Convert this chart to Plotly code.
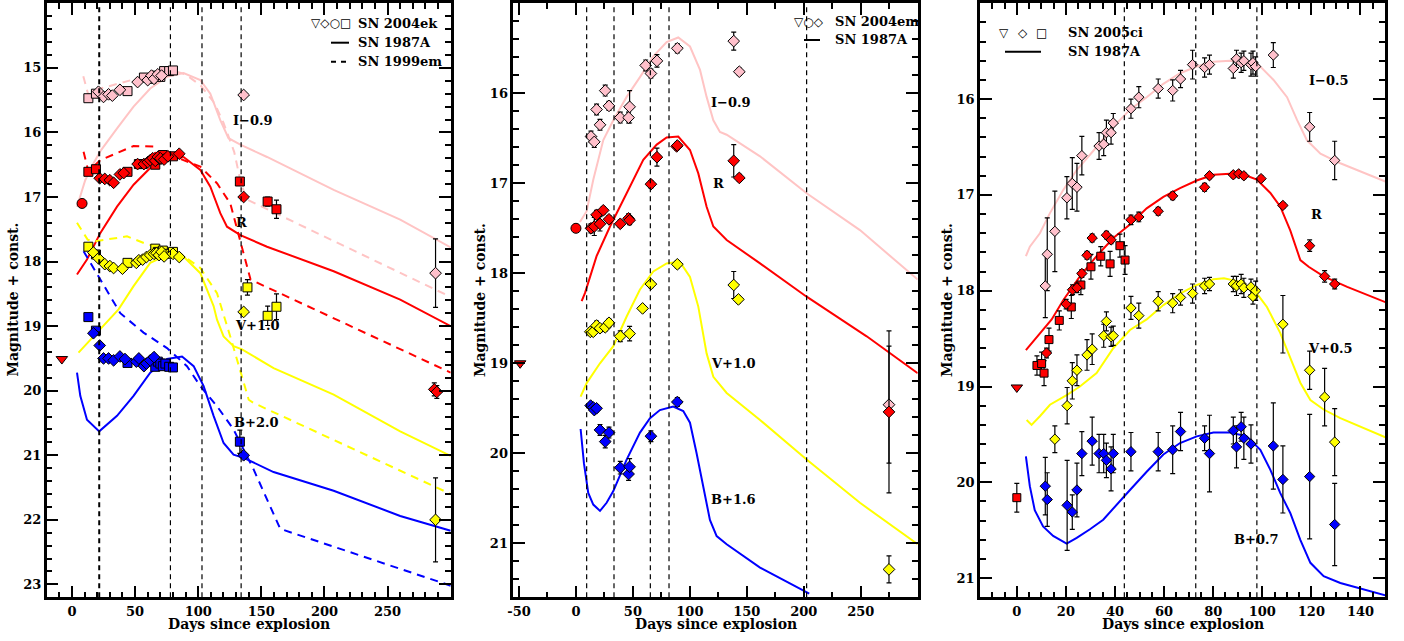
import plotly.graph_objects as go

# ---------------- data: SN 2004ek panel ----------------
spec_epochs_ek = [21.6, 78, 103, 134]

ek_I_sq_d = [13, 19, 44, 57, 63, 67, 70, 73, 77, 80]
ek_I_sq_m = [15.47, 15.40, 15.36, 15.15, 15.17, 15.12, 15.14, 15.05, 15.05, 15.04]
ek_I_dia_d = [21, 25, 29, 32, 38, 52, 60, 63, 65, 68, 71, 136]
ek_I_dia_m = [15.37, 15.45, 15.41, 15.43, 15.34, 15.22, 15.19, 15.12, 15.17, 15.10, 15.12, 15.42]
ek_I_late_d = [288]
ek_I_late_m = [18.18]
ek_I_late_e = [0.53]

ek_R_sq_d = [13, 19, 44, 53, 56, 66, 68, 72, 80, 133]
ek_R_sq_m = [16.61, 16.57, 16.61, 16.49, 16.49, 16.50, 16.42, 16.35, 16.37, 16.76]
ek_R_sqe_d = [155, 162]
ek_R_sqe_m = [17.07, 17.19]
ek_R_sqe_e = [0.07, 0.14]
ek_R_dia_d = [22, 26, 30, 33, 38, 41, 52, 57, 60, 62, 64, 66, 68, 70, 73, 76, 85, 136]
ek_R_dia_m = [16.71, 16.72, 16.74, 16.78, 16.65, 16.63, 16.49, 16.49, 16.46, 16.43, 16.40,
              16.44, 16.38, 16.40, 16.42, 16.37, 16.33, 17.0]
ek_R_late_d = [287, 289]
ek_R_late_m = [19.98, 20.02]
ek_R_late_e = [0.1, 0.1]
ek_R_circ_d = [8]
ek_R_circ_m = [17.10]
ek_R_tri_d = [-8]
ek_R_tri_m = [19.51]

ek_V_sq_d = [13, 19, 44, 66, 68, 72, 76, 80]
ek_V_sq_m = [17.77, 17.89, 18.02, 17.80, 17.85, 17.83, 17.88, 17.85]
ek_V_sqe_d = [139, 155, 162]
ek_V_sqe_m = [18.40, 18.84, 18.70]
ek_V_sqe_e = [0.12, 0.15, 0.2]
ek_V_dia_d = [17, 21, 26, 30, 33, 40, 51, 53, 56, 59, 62, 65, 67, 69, 71, 73, 80, 85, 136]
ek_V_dia_m = [17.86, 17.95, 18.04, 18.07, 18.10, 18.11, 18.02, 17.98, 17.97, 17.93, 17.90,
              17.88, 17.87, 17.90, 17.85, 17.92, 17.88, 17.93, 18.78]
ek_V_late_d = [288]
ek_V_late_m = [22.0]
ek_V_late_e = [0.65]

ek_B_sq_d = [13, 19, 44, 66, 68, 70, 72, 74, 77, 80]
ek_B_sq_m = [18.86, 19.07, 19.57, 19.63, 19.55, 19.58, 19.62, 19.58, 19.63, 19.64]
ek_B_sqe_d = [133]
ek_B_sqe_m = [20.79]
ek_B_sqe_e = [0.18]
ek_B_dia_d = [17, 22, 25, 29, 33, 38, 42, 51, 53, 57, 59, 62, 65, 136]
ek_B_dia_m = [19.11, 19.30, 19.50, 19.50, 19.53, 19.47, 19.51, 19.55, 19.50, 19.62, 19.58,
              19.53, 19.48, 21.0]

# SN 1987A template (panel 1)
p1_87_I_d = [4, 10.5, 17, 22.5, 35.6, 48.8, 62, 75.3, 88.4, 101.7, 109.6, 117.5, 124, 133.4, 154.5, 207.3, 260, 300]
p1_87_I_m = [17.15, 16.74, 16.48, 16.29, 15.94, 15.60, 15.32, 15.14, 15.08, 15.19, 15.40, 15.81, 16.09, 16.19, 16.38, 16.89, 17.35, 17.78]
p1_87_R_d = [4, 11.9, 22.4, 35.7, 48.8, 62, 75.3, 88.4, 101.7, 109.6, 117.5, 122.8, 133.4, 154.5, 207.3, 260, 300]
p1_87_R_m = [18.2, 17.97, 17.56, 17.15, 16.81, 16.55, 16.42, 16.38, 16.58, 16.84, 17.25, 17.46, 17.59, 17.77, 18.15, 18.59, 19.0]
p1_87_V_d = [5.2, 36.9, 48.8, 62, 75.3, 87.1, 101.7, 112.2, 114.9, 120.1, 128, 134.7, 159.7, 207.3, 260, 300]
p1_87_V_m = [19.41, 18.74, 18.38, 18.02, 17.9, 17.9, 18.18, 18.69, 18.9, 19.16, 19.31, 19.36, 19.65, 20.06, 20.63, 21.01]
p1_87_B_d = [4, 6.6, 11.9, 21.6, 35.7, 48.8, 62, 75.3, 87.2, 96.4, 104.3, 112.2, 120.1, 128, 136, 159.7, 207.3, 260, 300]
p1_87_B_m = [19.72, 20.08, 20.45, 20.63, 20.39, 20.08, 19.72, 19.51, 19.47, 19.62, 19.93, 20.39, 20.81, 20.99, 21.04, 21.26, 21.55, 21.94, 22.17]

# SN 1999em template (panel 1, dashed)
p1_99_I_d = [9, 13, 22.5, 35, 48.8, 65, 78, 90, 101.8, 113, 120, 128.5, 134, 138.7, 297]
p1_99_I_m = [15.13, 15.42, 15.32, 15.25, 15.18, 15.1, 15.03, 15.1, 15.27, 15.55, 15.85, 16.3, 16.8, 17.04, 18.52]
p1_99_R_d = [9.2, 13, 22.5, 48.8, 64.7, 66, 80.5, 101.7, 115, 125.4, 141.5, 300]
p1_99_R_m = [16.30, 16.60, 16.43, 16.21, 16.22, 16.33, 16.37, 16.53, 16.79, 17.10, 18.28, 19.72]
p1_99_V_d = [4, 12.4, 17, 43.6, 57.9, 67.3, 80.5, 101.7, 114.9, 125.4, 140, 143.9, 300]
p1_99_V_m = [17.40, 17.66, 17.69, 17.61, 17.72, 17.77, 17.80, 18.10, 18.49, 19.16, 20.14, 20.19, 21.6]
p1_99_B_d = [9.2, 22.4, 38.3, 56.7, 75.3, 91.1, 101.7, 114.9, 128, 143.9, 165, 300]
p1_99_B_m = [17.84, 18.28, 18.80, 19.10, 19.34, 19.62, 19.93, 20.24, 20.60, 21.22, 22.14, 23.02]

# ---------------- data: SN 2004em panel ----------------
spec_epochs_em = [9.4, 33.4, 65.3, 81.7, 202.5]

em_I_d = [13.2, 16.1, 18.1, 21.1, 25.7, 29, 38.9, 46.2, 47.1, 61.2, 65.8, 71.1, 89, 138.5, 143.4, 274.8]
em_I_m = [16.48, 16.54, 16.18, 16.35, 15.97, 16.14, 16.27, 16.27, 16.15, 15.69, 15.78, 15.64, 15.50, 15.42, 15.76, 19.46]
em_I_e = [0.06, 0.06, 0.06, 0.06, 0.06, 0.05, 0.06, 0.06, 0.18, 0.06, 0.05, 0.07, 0.05, 0.1, 0.04, 0.65]
em_R_d = [13.2, 16.1, 18.1, 21.1, 24, 29, 38.9, 46.2, 47.1, 65.8, 71.1, 88.4, 89, 138.5, 143.4, 274.8]
em_R_m = [17.50, 17.48, 17.35, 17.45, 17.30, 17.40, 17.45, 17.39, 17.41, 17.01, 16.71, 16.59, 16.58, 16.75, 16.94, 19.54]
em_R_e = [0.05, 0.1, 0.05, 0.08, 0.04, 0.04, 0.04, 0.05, 0.05, 0.04, 0.1, 0.04, 0.04, 0.18, 0.04, 0.9]
em_R_circ_d = [0]
em_R_circ_m = [17.50]
em_R_tri_d = [-49]
em_R_tri_m = [19.0]
em_V_d = [12.6, 15.2, 18.1, 21.1, 25.7, 29, 38.9, 47.1, 58.5, 65.8, 89, 138.5, 142.6, 274.8]
em_V_m = [18.65, 18.65, 18.58, 18.61, 18.60, 18.55, 18.70, 18.67, 18.39, 18.12, 17.90, 18.13, 18.29, 21.29]
em_V_e = [0.04, 0.04, 0.05, 0.04, 0.04, 0.04, 0.06, 0.08, 0.03, 0.04, 0.04, 0.15, 0.04, 0.15]
em_B_d = [12.9, 15.2, 16.1, 18.1, 21.1, 25.7, 29, 38.9, 46.2, 47.1, 65.8, 89]
em_B_m = [19.47, 19.49, 19.52, 19.50, 19.74, 19.87, 19.77, 20.16, 20.23, 20.15, 19.81, 19.43]
em_B_e = [0.03, 0.03, 0.03, 0.04, 0.06, 0.07, 0.06, 0.07, 0.07, 0.09, 0.06, 0.05]

p2_87_I_d = [3.5, 9.4, 15.2, 24, 32.8, 44.5, 56.2, 67.9, 79.6, 89.8, 100.1, 108.9, 114.7, 120.6, 126.4, 132.3, 161.6, 202.5, 249.3, 300]
p2_87_I_m = [17.43, 17.31, 16.96, 16.52, 16.30, 16.04, 15.82, 15.59, 15.43, 15.38, 15.48, 15.74, 16.04, 16.30, 16.43, 16.46, 16.70, 17.11, 17.52, 18.07]
p2_87_R_d = [5, 7.9, 18.1, 29.9, 44.5, 59.1, 70.9, 79.6, 89.8, 100.1, 107.4, 114.7, 120.6, 132.3, 161.6, 202.5, 255.2, 300]
p2_87_R_m = [18.31, 18.22, 17.81, 17.48, 17.11, 16.74, 16.57, 16.49, 16.48, 16.63, 16.89, 17.26, 17.48, 17.63, 17.89, 18.26, 18.70, 19.11]
p2_87_V_d = [4.1, 9.4, 21.1, 32.8, 44.5, 56.2, 67.9, 79.6, 91.1, 100.1, 107.4, 114.7, 120.6, 132.3, 161.6, 202.5, 249.3, 300]
p2_87_V_m = [19.37, 19.22, 19.0, 18.81, 18.48, 18.18, 17.98, 17.89, 17.87, 18.04, 18.37, 18.89, 19.15, 19.33, 19.63, 20.07, 20.55, 21.01]
p2_87_B_d = [4.1, 7, 10.8, 15.2, 21.1, 26.9, 32.8, 44.5, 56.2, 65, 73.7, 85.4, 94.2, 100.1, 105.9, 111.8, 117.6, 123.5, 132.3, 161.6, 204.8]
p2_87_B_m = [19.73, 20.11, 20.44, 20.57, 20.64, 20.55, 20.42, 20.07, 19.77, 19.61, 19.52, 19.48, 19.53, 19.66, 20.0, 20.37, 20.74, 20.92, 21.01, 21.27, 21.56]

# ---------------- data: SN 2005ci panel ----------------
spec_epochs_ci = [43.8, 72.9, 97.8]

ci_I_d = [11.6, 12.4, 15.5, 20.4, 22.6, 24.5, 26.5, 33.5, 35.4, 36.5, 38.4, 39.3, 46.5, 49.7, 57.6, 63.5, 66.7, 71.6, 76.5, 78.5, 88.2, 89.5, 91.4, 92.5, 95.4, 96.2, 97.3, 104.5, 119.3, 129.5]
ci_I_m = [17.95, 17.62, 17.38, 17.03, 16.88, 16.92, 16.59, 16.49, 16.47, 16.35, 16.35, 16.25, 16.10, 15.98, 15.89, 15.91, 15.79, 15.64, 15.67, 15.64, 15.68, 15.58, 15.62, 15.60, 15.64, 15.62, 15.66, 15.54, 16.29, 16.64]
ci_I_e = [0.33, 0.38, 0.42, 0.22, 0.27, 0.25, 0.2, 0.14, 0.12, 0.13, 0.12, 0.1, 0.1, 0.11, 0.1, 0.11, 0.09, 0.15, 0.1, 0.1, 0.1, 0.09, 0.1, 0.1, 0.12, 0.12, 0.1, 0.13, 0.15, 0.2]
ci_R_d = [12.1, 20.1, 22.7, 24.5, 26.5, 28.6, 30.7, 36.5, 38.4, 46.5, 49.7, 57.6, 63.5, 76.5, 78.5, 88.2, 90.4, 92.5, 99.5, 108.4, 119.3, 125.4, 129.5]
ci_R_m = [18.65, 18.14, 17.99, 17.97, 17.82, 17.63, 17.45, 17.42, 17.47, 17.26, 17.23, 17.17, 17.01, 16.92, 16.80, 16.79, 16.78, 16.80, 16.83, 17.11, 17.53, 17.85, 17.93]
ci_R_e = [0.05, 0.05, 0.05, 0.05, 0.04, 0.04, 0.04, 0.04, 0.04, 0.05, 0.05, 0.04, 0.04, 0.04, 0.03, 0.03, 0.03, 0.03, 0.03, 0.03, 0.06, 0.06, 0.05]
ci_R_sq_d = [0, 8.2, 10.1, 11.1, 13.1, 17.3, 22.2, 26.1, 30.2, 34.2, 38, 42, 44.1]
ci_R_sq_m = [20.16, 18.78, 18.76, 18.86, 18.51, 18.31, 18.17, 17.94, 17.75, 17.64, 17.72, 17.53, 17.68]
ci_R_sq_e = [0.15, 0.1, 0.12, 0.13, 0.12, 0.1, 0.12, 0.1, 0.13, 0.1, 0.13, 0.12, 0.15]
ci_R_tri_d = [0]
ci_R_tri_m = [19.01]
ci_V_d = [15.5, 20.5, 22.6, 24.5, 28.6, 30.7, 35.4, 36.5, 38.4, 39.3, 46.5, 49.7, 57.6, 63.5, 66.7, 71.6, 76.5, 78.5, 88.2, 89.5, 91.4, 92.5, 95.4, 96.2, 97.3, 108.4, 119.3, 125.4, 129.5]
ci_V_m = [19.55, 19.20, 18.94, 18.83, 18.67, 18.61, 18.47, 18.32, 18.48, 18.47, 18.18, 18.26, 18.11, 18.13, 18.07, 18.03, 17.95, 17.93, 17.93, 17.95, 17.93, 17.97, 17.96, 18.06, 18.0, 18.35, 18.83, 19.11, 19.58]
ci_V_e = [0.14, 0.19, 0.19, 0.16, 0.16, 0.16, 0.12, 0.1, 0.1, 0.1, 0.12, 0.13, 0.1, 0.1, 0.08, 0.1, 0.08, 0.07, 0.08, 0.1, 0.1, 0.1, 0.08, 0.08, 0.1, 0.3, 0.2, 0.3, 0.35]
ci_B_d = [11.6, 12.4, 20.5, 22.6, 24.5, 26.5, 30.7, 33.5, 35.4, 36.5, 38.4, 39.3, 46.5, 57.6, 63.5, 66.7, 76.5, 78.5, 88.2, 89.5, 91.4, 92.5, 95.4, 104.5, 108.4, 119.3, 129.5]
ci_B_m = [20.04, 20.18, 20.24, 20.31, 20.08, 19.70, 19.57, 19.70, 19.70, 19.77, 19.86, 19.70, 19.68, 19.68, 19.66, 19.47, 19.54, 19.70, 19.46, 19.63, 19.42, 19.54, 19.60, 19.62, 19.97, 19.94, 20.44]
ci_B_e = [0.3, 0.28, 0.47, 0.18, 0.28, 0.23, 0.25, 0.2, 0.2, 0.18, 0.23, 0.2, 0.2, 0.2, 0.25, 0.2, 0.13, 0.4, 0.14, 0.22, 0.15, 0.22, 0.2, 0.45, 0.35, 0.65, 0.43]

p3_87_I_d = [3.7, 5.3, 9.4, 13.5, 18.9, 24.4, 32.5, 39.3, 46.1, 52.9, 59.7, 66.5, 73.3, 80.1, 86.9, 93.7, 99.2, 104.6, 110.1, 114.2, 118.2, 123.7, 131.8, 150.2]
p3_87_I_m = [17.64, 17.54, 17.40, 17.19, 16.95, 16.74, 16.50, 16.29, 16.11, 15.98, 15.84, 15.73, 15.66, 15.61, 15.60, 15.61, 15.66, 15.80, 15.98, 16.22, 16.43, 16.57, 16.67, 16.86]
p3_87_R_d = [3.7, 6.7, 10.7, 14.2, 18.9, 25.7, 32.5, 39.3, 46.1, 52.9, 59.7, 66.5, 73.3, 80.1, 86.9, 93.7, 97.8, 103.3, 107.3, 111.4, 115.5, 118.9, 125, 134.6, 150.2]
p3_87_R_m = [18.62, 18.53, 18.41, 18.30, 18.10, 17.85, 17.64, 17.45, 17.31, 17.14, 17.02, 16.93, 16.85, 16.79, 16.78, 16.80, 16.84, 16.98, 17.12, 17.37, 17.68, 17.75, 17.85, 17.96, 18.12]
p3_87_V_d = [4, 6, 9.4, 13.5, 20.3, 25.7, 32.5, 39.3, 46.1, 52.9, 59.7, 66.5, 73.3, 80.1, 84.4, 91.4, 97.8, 101.9, 107.3, 111.4, 115.5, 119.6, 125, 131.8, 150.2]
p3_87_V_m = [19.35, 19.40, 19.31, 19.19, 19.09, 19.0, 18.86, 18.60, 18.41, 18.30, 18.15, 18.03, 17.94, 17.88, 17.87, 17.91, 18.03, 18.17, 18.44, 18.69, 18.96, 19.14, 19.24, 19.33, 19.53]
p3_87_B_d = [3.7, 5.3, 7.3, 10.7, 14.8, 20.3, 24.4, 29.8, 35.2, 40.7, 46.1, 52.9, 59.7, 66.5, 73.3, 80.1, 86.9, 93.7, 99.2, 103.3, 107.3, 111.4, 115.5, 119.6, 125, 131.8, 150.2]
p3_87_B_m = [19.73, 20.04, 20.29, 20.46, 20.56, 20.64, 20.58, 20.49, 20.39, 20.23, 20.08, 19.89, 19.71, 19.59, 19.52, 19.48, 19.48, 19.52, 19.66, 19.87, 20.11, 20.32, 20.60, 20.84, 20.98, 21.05, 21.18]

# ---------------- styling ----------------
W, H = 1404, 641
FONT = 'DejaVu Serif'
PINK = '#ffc0cb'
PINKL = '#ffc4c4'
RED = '#ff0000'
YEL = '#ffff00'
BLU = '#0000ff'
DASH = '8px,6px'

fig = go.Figure()


def add_line(ax, d, m, color, dash='solid', width=2):
    fig.add_trace(go.Scatter(x=d, y=m, mode='lines', xaxis='x' + ax, yaxis='y' + ax,
                             line=dict(color=color, width=width, dash=dash),
                             showlegend=False, hoverinfo='skip'))


def add_pts(ax, d, m, color, symbol, size, err=None):
    kw = {}
    if err is not None:
        kw['error_y'] = dict(type='data', array=err, visible=True, color='black',
                             thickness=1.2, width=2.5)
    fig.add_trace(go.Scatter(x=d, y=m, mode='markers', xaxis='x' + ax, yaxis='y' + ax,
                             marker=dict(color=color, symbol=symbol, size=size,
                                         line=dict(color='black', width=1)),
                             showlegend=False, hoverinfo='skip', **kw))


# panel 1 curves
add_line('', p1_87_I_d, p1_87_I_m, PINKL)
add_line('', p1_99_I_d, p1_99_I_m, PINKL, DASH)
add_line('', p1_87_R_d, p1_87_R_m, RED)
add_line('', p1_99_R_d, p1_99_R_m, RED, DASH)
add_line('', p1_87_V_d, p1_87_V_m, YEL)
add_line('', p1_99_V_d, p1_99_V_m, YEL, DASH)
add_line('', p1_87_B_d, p1_87_B_m, BLU)
add_line('', p1_99_B_d, p1_99_B_m, BLU, DASH)
# panel 1 points
add_pts('', ek_I_sq_d, ek_I_sq_m, PINK, 'square', 9)
add_pts('', ek_I_dia_d, ek_I_dia_m, PINK, 'diamond', 9)
add_pts('', ek_I_late_d, ek_I_late_m, PINK, 'diamond', 9, ek_I_late_e)
add_pts('', ek_R_sq_d, ek_R_sq_m, RED, 'square', 9)
add_pts('', ek_R_sqe_d, ek_R_sqe_m, RED, 'square', 9, ek_R_sqe_e)
add_pts('', ek_R_dia_d, ek_R_dia_m, RED, 'diamond', 9)
add_pts('', ek_R_late_d, ek_R_late_m, RED, 'diamond', 9, ek_R_late_e)
add_pts('', ek_R_circ_d, ek_R_circ_m, RED, 'circle', 10)
add_pts('', ek_R_tri_d, ek_R_tri_m, RED, 'triangle-down', 10)
add_pts('', ek_V_sq_d, ek_V_sq_m, YEL, 'square', 9)
add_pts('', ek_V_sqe_d, ek_V_sqe_m, YEL, 'square', 9, ek_V_sqe_e)
add_pts('', ek_V_dia_d, ek_V_dia_m, YEL, 'diamond', 9)
add_pts('', ek_V_late_d, ek_V_late_m, YEL, 'diamond', 9, ek_V_late_e)
add_pts('', ek_B_sq_d, ek_B_sq_m, BLU, 'square', 9)
add_pts('', ek_B_sqe_d, ek_B_sqe_m, BLU, 'square', 9, ek_B_sqe_e)
add_pts('', ek_B_dia_d, ek_B_dia_m, BLU, 'diamond', 9)

# panel 2
add_line('2', p2_87_I_d, p2_87_I_m, PINKL)
add_line('2', p2_87_R_d, p2_87_R_m, RED)
add_line('2', p2_87_V_d, p2_87_V_m, YEL)
add_line('2', p2_87_B_d, p2_87_B_m, BLU)
add_pts('2', em_I_d, em_I_m, PINK, 'diamond', 9, em_I_e)
add_pts('2', em_R_d, em_R_m, RED, 'diamond', 9, em_R_e)
add_pts('2', em_R_circ_d, em_R_circ_m, RED, 'circle', 10)
add_pts('2', em_R_tri_d, em_R_tri_m, RED, 'triangle-down', 10)
add_pts('2', em_V_d, em_V_m, YEL, 'diamond', 9, em_V_e)
add_pts('2', em_B_d, em_B_m, BLU, 'diamond', 9, em_B_e)

# panel 3
add_line('3', p3_87_I_d, p3_87_I_m, PINKL)
add_line('3', p3_87_R_d, p3_87_R_m, RED)
add_line('3', p3_87_V_d, p3_87_V_m, YEL)
add_line('3', p3_87_B_d, p3_87_B_m, BLU)
add_pts('3', ci_I_d, ci_I_m, PINK, 'diamond', 8, ci_I_e)
add_pts('3', ci_R_sq_d, ci_R_sq_m, RED, 'square', 8, ci_R_sq_e)
add_pts('3', ci_R_d, ci_R_m, RED, 'diamond', 8, ci_R_e)
add_pts('3', ci_R_tri_d, ci_R_tri_m, RED, 'triangle-down', 10)
add_pts('3', ci_V_d, ci_V_m, YEL, 'diamond', 8, ci_V_e)
add_pts('3', ci_B_d, ci_B_m, BLU, 'diamond', 8, ci_B_e)

# ---------------- axes ----------------
TICKFONT = dict(family=FONT, size=13, color='black', weight='bold')
YDOM = [1 - 597.3 / H, 1 - 3.3 / H]


def common(rng, tv, anchor, mdt):
    return dict(range=rng, tickvals=tv, ticktext=[str(v) for v in tv],
                ticks='inside', ticklen=12, tickwidth=1.8, tickcolor='black',
                mirror='allticks', showline=True, linewidth=2.5, linecolor='black',
                showgrid=False, zeroline=False, tickfont=TICKFONT, anchor=anchor,
                automargin=False,
                minor=dict(ticks='inside', ticklen=6, tickwidth=1.5, tickcolor='black',
                           dtick=mdt, tick0=0, showgrid=False))


def xaxis(px0, px1, rng, tv, mdt, anchor):
    d = common(rng, tv, anchor, mdt)
    d['domain'] = [px0 / W, px1 / W]
    return d


def yaxis(rng, tv, anchor):
    d = common(rng, tv, anchor, 0.2)
    d['domain'] = YDOM
    return d


x1_ticks = [0, 50, 100, 150, 200, 250]
x2_ticks = [-50, 0, 50, 100, 150, 200, 250]
x3_ticks = [0, 20, 40, 60, 80, 100, 120, 140]
y1_ticks = [15, 16, 17, 18, 19, 20, 21, 22, 23]
y2_ticks = [16, 17, 18, 19, 20, 21]
y3_ticks = [16, 17, 18, 19, 20, 21]

fig.update_layout(
    xaxis=xaxis(46.7, 450.7, [-20, 300], x1_ticks, 10, 'y'),
    yaxis=yaxis([23.2, 14.0], y1_ticks, 'x'),
    xaxis2=xaxis(513.3, 917.7, [-55, 300], x2_ticks, 25, 'y2'),
    yaxis2=yaxis([21.6, 15.0], y2_ticks, 'x2'),
    xaxis3=xaxis(980, 1385, [-15, 150], x3_ticks, 5, 'y3'),
    yaxis3=yaxis([21.2, 15.0], y3_ticks, 'x3'),
)

# ---------------- shapes: spectral epochs ----------------
shapes = []
for i, ep in enumerate(spec_epochs_ek):
    shapes.append(dict(type='line', xref='x', yref='y domain', x0=ep, x1=ep, y0=0, y1=1,
                       line=dict(color='black', width=2 if i == 0 else 1.2, dash='5px,4px')))
for ep in spec_epochs_em:
    shapes.append(dict(type='line', xref='x2', yref='y2 domain', x0=ep, x1=ep, y0=0, y1=1,
                       line=dict(color='black', width=1.2, dash='5px,4px')))
for ep in spec_epochs_ci:
    shapes.append(dict(type='line', xref='x3', yref='y3 domain', x0=ep, x1=ep, y0=0, y1=1,
                       line=dict(color='black', width=1.2, dash='5px,4px')))


def P(x, y):
    return x / W, 1 - y / H


def legline(x0, x1, y, dash='solid'):
    a = P(x0, y)
    b = P(x1, y)
    shapes.append(dict(type='line', xref='paper', yref='paper', x0=a[0], x1=b[0], y0=a[1], y1=b[1],
                       line=dict(color='black', width=2, dash=dash)))


legline(331, 349, 42.7)
legline(331, 349, 61.7, '5px,5px')
legline(804, 820, 40)
legline(1005, 1041, 51.7)
fig.update_layout(shapes=shapes)

# ---------------- annotations ----------------
ann = []
BF = dict(family=FONT, size=13, color='black', weight='bold')


def txt_paper(x, y, s, xanchor='left', font=None, angle=0):
    px, py = P(x, y)
    ann.append(dict(x=px, y=py, xref='paper', yref='paper', text=s, showarrow=False,
                    xanchor=xanchor, yanchor='middle', font=font or BF, textangle=angle))


def txt_data(ax, d, m, s):
    ann.append(dict(x=d, y=m, xref='x' + ax, yref='y' + ax, text=s, showarrow=False,
                    xanchor='center', yanchor='middle', font=BF))


SYMF = dict(family='DejaVu Sans', size=12, color='black')
# legends
txt_paper(353, 23.3, '▽◇○□', 'right', SYMF)
txt_paper(356, 23.3, 'SN 2004ek')
txt_paper(356, 42.7, 'SN 1987A')
txt_paper(356, 61.7, 'SN 1999em')
txt_paper(826, 21.7, '▽○◇', 'right', SYMF)
txt_paper(833, 21.7, 'SN 2004em')
txt_paper(833, 40, 'SN 1987A')
txt_paper(1004, 32.7, '▽', 'center', SYMF)
txt_paper(1023.3, 32.7, '◇', 'center', SYMF)
txt_paper(1041.3, 32.7, '□', 'center', SYMF)
txt_paper(1066, 32.7, 'SN 2005ci')
txt_paper(1066, 51.7, 'SN 1987A')

# band labels
txt_data('', 143.7, 15.81, 'I−0.9')
txt_data('', 134.2, 17.40, 'R')
txt_data('', 146.8, 18.99, 'V+1.0')
txt_data('', 146.0, 20.49, 'B+2.0')
txt_data('2', 135.8, 16.10, 'I−0.9')
txt_data('2', 124.9, 17.0, 'R')
txt_data('2', 138.1, 19.0, 'V+1.0')
txt_data('2', 138.1, 20.51, 'B+1.6')
txt_data('3', 127.1, 15.81, 'I−0.5')
txt_data('3', 122.0, 17.20, 'R')
txt_data('3', 127.9, 18.60, 'V+0.5')
txt_data('3', 97.8, 20.6, 'B+0.7')

# axis titles
TF = dict(family=FONT, size=14, color='black', weight='bold')
for cx in [248.7, 715.5, 1182.5]:
    txt_paper(cx, 624, 'Days since explosion', 'center', TF)
for cx in [12.5, 480, 947]:
    txt_paper(cx, 300, 'Magnitude + const.', 'center', TF, -90)

fig.update_layout(annotations=ann, width=W, height=H,
                  margin=dict(l=0, r=0, t=0, b=0),
                  paper_bgcolor='white', plot_bgcolor='white')

fig.write_html('out.html', config={'displayModeBar': False},
               post_script="document.body.style.margin='0';document.body.style.padding='0';"
                           "document.body.style.overflow='hidden';")
